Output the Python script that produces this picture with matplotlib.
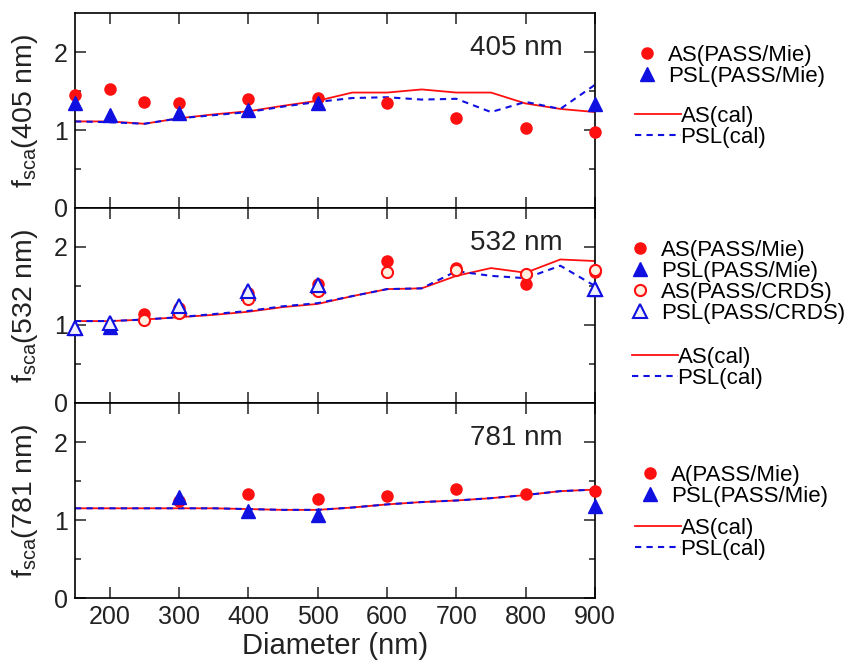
import numpy as np
import matplotlib.pyplot as plt

plt.rcParams['font.family'] = ['Liberation Sans', 'DejaVu Sans']
plt.rcParams['mathtext.fontset'] = 'custom'
plt.rcParams['mathtext.rm'] = 'Liberation Sans'
plt.rcParams['mathtext.it'] = 'Liberation Sans'

# calculated curves (every 50 nm)
d_cal = [150, 200, 250, 300, 350, 400, 450, 500, 550, 600, 650, 700, 750, 800, 850, 900]
as_cal_405 = [1.11, 1.11, 1.08, 1.15, 1.20, 1.24, 1.31, 1.375, 1.48, 1.48, 1.52, 1.48, 1.48, 1.34, 1.27, 1.23]
psl_cal_405 = [1.11, 1.10, 1.08, 1.15, 1.19, 1.23, 1.30, 1.36, 1.41, 1.42, 1.39, 1.40, 1.23, 1.36, 1.27, 1.58]
as_cal_532 = [1.05, 1.05, 1.07, 1.10, 1.13, 1.17, 1.23, 1.27, 1.37, 1.46, 1.47, 1.63, 1.73, 1.67, 1.84, 1.82]
psl_cal_532 = [1.05, 1.05, 1.07, 1.10, 1.14, 1.18, 1.24, 1.28, 1.37, 1.46, 1.47, 1.69, 1.63, 1.60, 1.76, 1.50]
as_cal_781 = [1.15, 1.15, 1.15, 1.15, 1.15, 1.14, 1.13, 1.13, 1.16, 1.20, 1.23, 1.25, 1.28, 1.32, 1.37, 1.39]
psl_cal_781 = [1.15, 1.15, 1.15, 1.15, 1.15, 1.14, 1.13, 1.13, 1.16, 1.20, 1.23, 1.25, 1.28, 1.32, 1.37, 1.39]

# 405 nm measurements
d_as_405 = [150, 200, 250, 300, 400, 500, 600, 700, 800, 900]
as_mie_405 = [1.45, 1.53, 1.36, 1.34, 1.40, 1.41, 1.34, 1.16, 1.02, 0.98]
d_psl_405 = [150, 200, 300, 400, 500, 900]
psl_mie_405 = [1.35, 1.19, 1.22, 1.25, 1.34, 1.33]

# 532 nm measurements
d_as_532 = [250, 300, 400, 500, 600, 700, 800, 900]
as_mie_532 = [1.14, 1.22, 1.41, 1.53, 1.82, 1.73, 1.52, 1.68]
as_crds_532 = [1.07, 1.16, 1.33, 1.44, 1.68, 1.70, 1.66, 1.70]
d_psl_532 = [150, 200, 300, 400, 500, 900]
psl_mie_532 = [0.96, 0.97, 1.22, 1.41, 1.50, 1.46]
psl_crds_532 = [0.96, 1.02, 1.24, 1.43, 1.51, 1.46]

# 781 nm measurements
d_as_781 = [300, 400, 500, 600, 700, 800, 900]
as_mie_781 = [1.24, 1.33, 1.27, 1.31, 1.40, 1.33, 1.37]
d_psl_781 = [300, 400, 500, 900]
psl_mie_781 = [1.30, 1.11, 1.06, 1.18]

red = '#ff1010'
blue = '#1010e0'
ink = '#222222'
fs_tick = 18
fs_leg = 16

fig = plt.figure(figsize=(8.54, 6.66), dpi=100)
W, H = 854.0, 666.0
left, right = 75 / W, 595 / W
panel_h = 195 / H
bottoms = [(H - 208) / H, (H - 403) / H, (H - 598) / H]
axes = [fig.add_axes([left, b, right - left, panel_h]) for b in bottoms]


def style(ax, wl, show_x):
    ax.set_xlim(150, 900)
    ax.set_ylim(0, 2.5)
    ax.set_xticks(np.arange(200, 901, 100))
    ax.set_yticks([0, 1, 2])
    ax.set_yticks([0.5, 1.5], minor=True)
    ax.tick_params(which='both', direction='in', top=True, right=True,
                   labelsize=fs_tick, width=1.1, colors=ink)
    ax.tick_params(which='major', length=8, pad=5)
    ax.tick_params(which='minor', length=4)
    if not show_x:
        ax.tick_params(labelbottom=False)
    for s in ax.spines.values():
        s.set_linewidth(1.2)
    ax.set_ylabel(r'f$_{\mathrm{sca}}$(%d nm)' % wl, fontsize=20.5, color=ink)
    ax.yaxis.set_label_coords(-0.067, 0.5)
    ax.text(0.938, 0.785, '%d nm' % wl, transform=ax.transAxes, ha='right',
            va='baseline', fontsize=20, color=ink)


def px(x, y):
    return (x / W, 1 - y / H)


def legends(ax, marks, lines, mpos, lpos):
    lg = ax.legend(handles=marks, loc='upper left', bbox_to_anchor=px(*mpos),
                   bbox_transform=fig.transFigure, frameon=False, fontsize=fs_leg,
                   handlelength=1, handletextpad=0.45, borderpad=0, borderaxespad=0,
                   labelspacing=0.0)
    ax.add_artist(lg)
    ax.legend(handles=lines, loc='upper left', bbox_to_anchor=px(*lpos),
              bbox_transform=fig.transFigure, frameon=False, fontsize=fs_leg,
              handlelength=2.05, handletextpad=0, borderpad=0, borderaxespad=0,
              labelspacing=0.0)


mk = dict(linestyle='', clip_on=False, zorder=4)
circ = dict(marker='o', markersize=8, **mk)
tri = dict(marker='^', markersize=10, **mk)

# panel 405
ax = axes[0]
l1, = ax.plot(d_cal, as_cal_405, '-', color=red, lw=1.3, label='AS(cal)')
l2, = ax.plot(d_cal, psl_cal_405, '--', color=blue, lw=1.5, dashes=(3, 2.5), label='PSL(cal)')
m1, = ax.plot(d_as_405, as_mie_405, color=red, label='AS(PASS/Mie)', **circ)
m2, = ax.plot(d_psl_405, psl_mie_405, color=blue, label='PSL(PASS/Mie)', **tri)
style(ax, 405, False)
legends(ax, [m1, m2], [l1, l2], (636, 45), (635, 106))

# panel 532
ax = axes[1]
l1, = ax.plot(d_cal, as_cal_532, '-', color=red, lw=1.3, label='AS(cal)')
l2, = ax.plot(d_cal, psl_cal_532, '--', color=blue, lw=1.5, dashes=(3, 2.5), label='PSL(cal)')
m1, = ax.plot(d_as_532, as_mie_532, color=red, label='AS(PASS/Mie)', **circ)
m2, = ax.plot(d_psl_532, psl_mie_532, color=blue, label='PSL(PASS/Mie)', **tri)
m3, = ax.plot(d_as_532, as_crds_532, color=red, mfc='#fff0e0', mew=1.5,
              label='AS(PASS/CRDS)', **circ)
m4, = ax.plot(d_psl_532, psl_crds_532, color=blue, mfc='#f0f0ff', mew=1.5,
              label='PSL(PASS/CRDS)', **tri)
style(ax, 532, False)
legends(ax, [m1, m2, m3, m4], [l1, l2], (629, 240), (632, 347))

# panel 781
ax = axes[2]
l1, = ax.plot(d_cal, as_cal_781, '-', color=red, lw=1.3, label='AS(cal)')
l2, = ax.plot(d_cal, psl_cal_781, '--', color=blue, lw=1.5, dashes=(3, 2.5), label='PSL(cal)')
m1, = ax.plot(d_as_781, as_mie_781, color=red, label='A(PASS/Mie)', **circ)
m2, = ax.plot(d_psl_781, psl_mie_781, color=blue, label='PSL(PASS/Mie)', **tri)
style(ax, 781, True)
ax.set_xlabel('Diameter (nm)', fontsize=21, color=ink, labelpad=2)
legends(ax, [m1, m2], [l1, l2], (639, 465), (635, 518))

fig.savefig('out.png', dpi=100)
